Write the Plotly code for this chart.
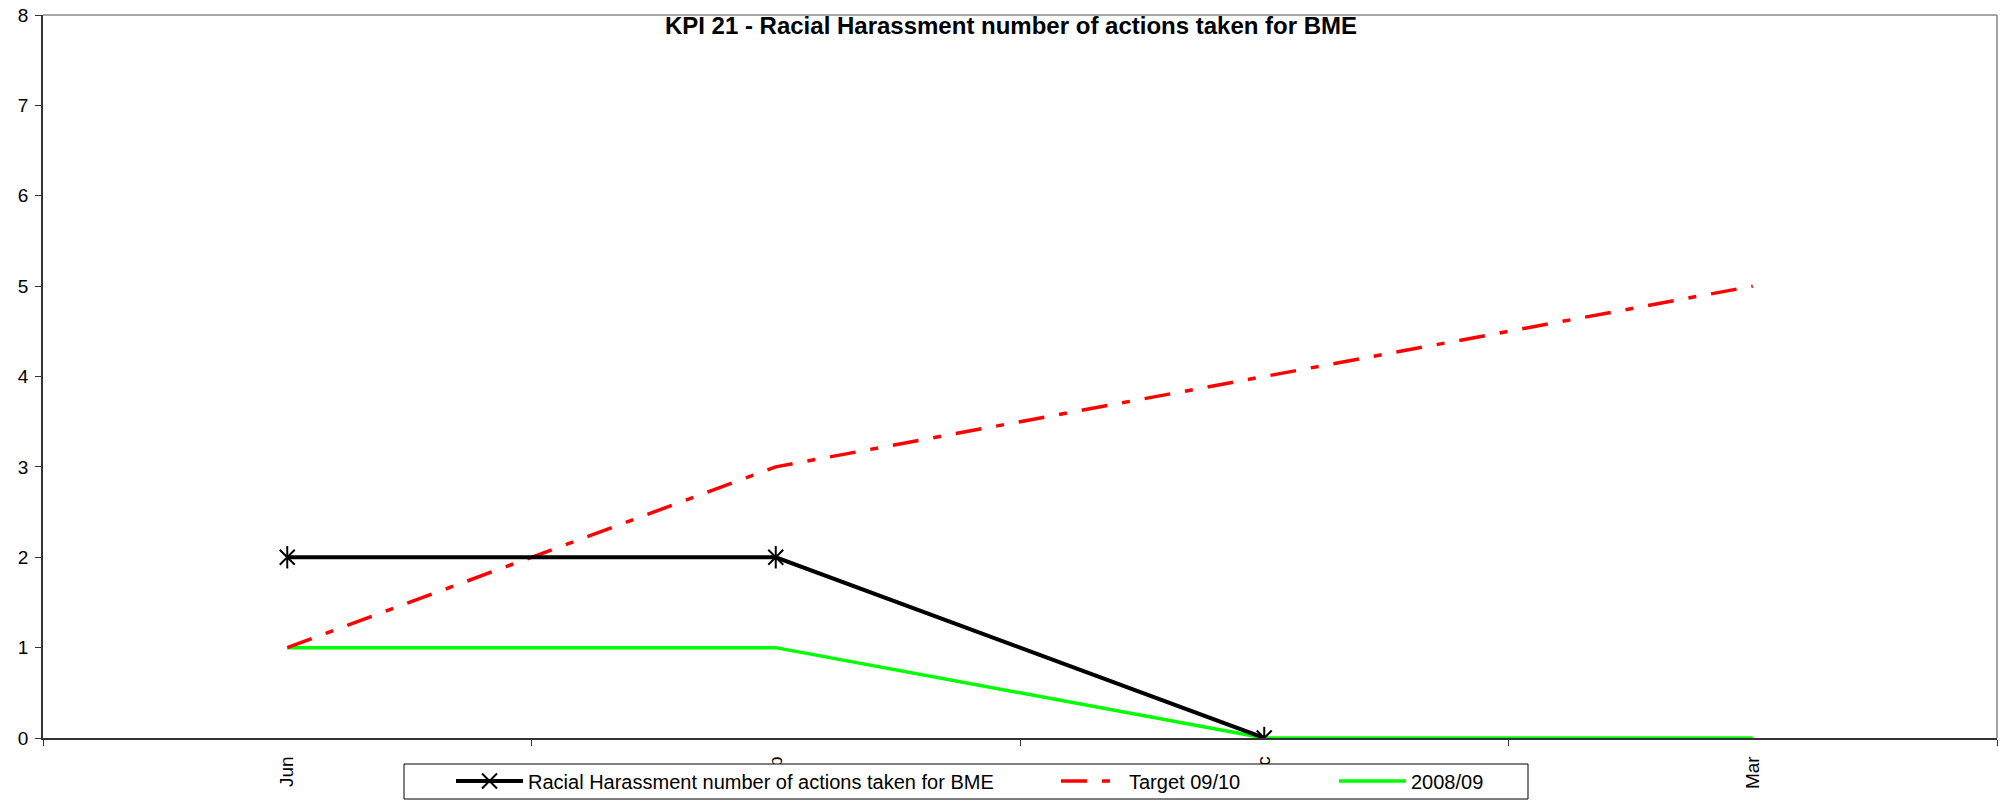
import plotly.graph_objects as go

categories = ["Jun", "Sep", "Dec", "Mar"]
actions_bme = [2, 2, 0, None]
target_0910 = [1, 3, 4, 5]
year_0809 = [1, 1, 0, 0]

title_text = "KPI 21 - Racial Harassment number of actions taken for BME"
name_actions = "Racial Harassment number of actions taken for BME"
name_target = "Target 09/10"
name_0809 = "2008/09"

FONT = "Arial, 'Liberation Sans', sans-serif"

W_FIG, H_FIG = 2010, 802
L, R, T, B = 43, 13, 15, 64
PW = W_FIG - L - R
PH = H_FIG - T - B


def px_x(p):
    return (p - L) / PW


def px_y(p):
    return (T + PH - p) / PH


LEG_Y = 781

fig = go.Figure()
fig.add_trace(go.Scatter(
    x=categories, y=year_0809, name=name_0809, mode="lines",
    line=dict(color="#00FF00", width=3.5), legend="legend3",
))
fig.add_trace(go.Scatter(
    x=categories, y=target_0910, name=name_target, mode="lines",
    line=dict(color="#FF0000", width=3.5, dash="26px,15px,8px,15px"), legend="legend2",
))
fig.add_trace(go.Scatter(
    x=categories, y=actions_bme, name=name_actions, mode="lines+markers",
    line=dict(color="#000000", width=4),
    marker=dict(symbol="x-thin-open", size=15, color="#000000",
                line=dict(color="#000000", width=2)),
    legendgroup="a", legend="legend",
))
fig.add_trace(go.Scatter(
    x=categories, y=actions_bme, mode="markers", showlegend=False, legendgroup="a",
    marker=dict(symbol="line-ns-open", size=16, color="#000000",
                line=dict(color="#000000", width=2)),
    hoverinfo="skip", legend="legend",
))


def leg(box_left, item_w=67):
    return dict(
        orientation="h",
        x=px_x(box_left), xanchor="left",
        y=px_y(LEG_Y), yanchor="middle",
        bgcolor="rgba(0,0,0,0)", borderwidth=0,
        font=dict(family=FONT, size=20, color="#000000"),
        itemwidth=item_w,
    )


fig.update_layout(
    width=W_FIG, height=H_FIG,
    paper_bgcolor="white", plot_bgcolor="white",
    margin=dict(l=L, r=R, t=T, b=B, autoexpand=False),
    font=dict(family=FONT, size=19, color="#000000"),
    showlegend=True,
    legend=leg(451),
    legend2=leg(1056, 63),
    legend3=leg(1334),
    title=dict(
        text="<b>" + title_text + "</b>",
        x=px_x(1011), xanchor="center", xref="paper",
        y=1 - 26 / H_FIG, yanchor="middle",
        font=dict(family=FONT, size=24, color="#000000"),
    ),
    xaxis=dict(
        type="category", categoryorder="array", categoryarray=categories,
        range=[-0.5, 3.5], automargin=False,
        showgrid=False, zeroline=False,
        showline=True, linecolor="#333333", linewidth=1.5,
        ticks="outside", ticklen=6, tickcolor="#333333", tickwidth=1,
        tickson="boundaries",
        tickangle=-90, ticklabelstandoff=9,
        tickfont=dict(family=FONT, size=19, color="#000000"),
    ),
    yaxis=dict(
        range=[0, 8], dtick=1, tick0=0, automargin=False,
        showgrid=False, zeroline=False,
        showline=True, linecolor="#333333", linewidth=1.8,
        ticks="outside", ticklen=6, tickcolor="#333333", tickwidth=1,
        ticklabelstandoff=3,
        tickfont=dict(family=FONT, size=19, color="#000000"),
    ),
    shapes=[
        dict(type="line", xref="paper", yref="paper", x0=0, x1=1, y0=1, y1=1,
             line=dict(color="#888888", width=1.5)),
        dict(type="line", xref="paper", yref="paper", x0=1, x1=1, y0=0, y1=1,
             line=dict(color="#888888", width=1.5)),
        # legend frame (covers the tick labels underneath, as in the reference)
        dict(type="rect", xref="paper", yref="paper", layer="above",
             x0=px_x(404), x1=px_x(1528), y0=px_y(799), y1=px_y(764),
             fillcolor="white", line=dict(color="#000000", width=1)),
    ],
)

fig.write_html("out.html", config={"displayModeBar": False},
               post_script="document.body.style.margin='0px';")
